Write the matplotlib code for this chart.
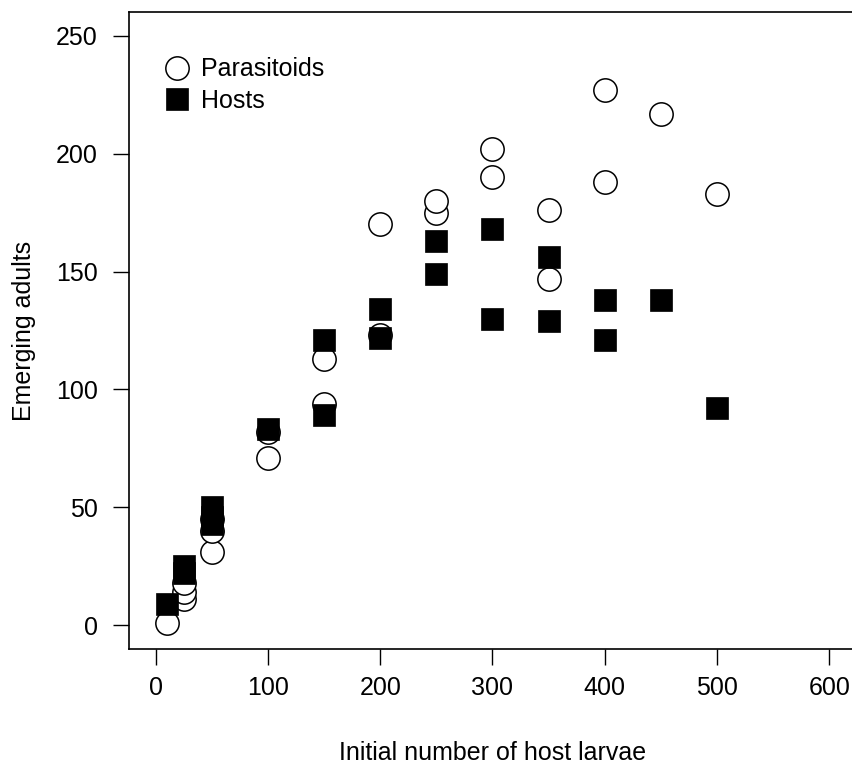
import matplotlib
matplotlib.use("Agg")
import matplotlib.pyplot as plt

plt.rcParams['font.family'] = ['Liberation Sans', 'DejaVu Sans']

# Parasitoids (open circles)
para_x = [10, 25, 25, 25, 50, 50, 50, 100, 100, 150, 150, 200, 200, 250, 250,
          300, 300, 350, 350, 400, 400, 450, 500]
para_y = [1, 11, 14, 18, 31, 40, 45, 71, 82, 94, 113, 123, 170, 175, 180,
          190, 202, 147, 176, 188, 227, 217, 183]

# Hosts (filled squares)
host_x = [10, 25, 25, 50, 50, 50, 100, 150, 150, 200, 200, 250, 250,
          300, 300, 350, 350, 400, 400, 450, 500]
host_y = [9, 22, 25, 43, 46, 50, 83, 89, 121, 122, 134, 149, 163,
          130, 168, 129, 156, 121, 138, 138, 92]

xticks = [0, 100, 200, 300, 400, 500, 600]
yticks = [0, 50, 100, 150, 200, 250]

W, H = 853, 767
fig = plt.figure(figsize=(W / 100, H / 100), dpi=100)
left, right, top, bottom = 128.7, 856.3, 12.3, 648.7
ax = fig.add_axes([left / W, 1 - bottom / H, (right - left) / W, (bottom - top) / H])

ax.plot(para_x, para_y, linestyle='none', marker='o', markersize=16.8,
        markerfacecolor='white', markeredgecolor='black', markeredgewidth=1.1,
        label='Parasitoids', zorder=3)
ax.plot(host_x, host_y, linestyle='none', marker='s', markersize=15.5,
        markerfacecolor='black', markeredgecolor='black', markeredgewidth=0.5,
        label='Hosts', zorder=4)

ax.set_xlim(-24, 624)
ax.set_ylim(-10, 260)
ax.set_xticks(xticks)
ax.set_yticks(yticks)
ax.tick_params(axis='both', direction='out', length=11.3, width=1.0, labelsize=18,
               color='black')
ax.tick_params(axis='x', pad=8)
ax.tick_params(axis='y', pad=11)
for s in ax.spines.values():
    s.set_linewidth(1.2)
    s.set_color('black')

ax.set_xlabel('Initial number of host larvae', fontsize=18, labelpad=30)
ax.set_ylabel('Emerging adults', fontsize=18, labelpad=14)

ax.legend(loc='upper left', bbox_to_anchor=(0.0492, 0.929), frameon=False,
          fontsize=18, borderpad=0, borderaxespad=0, handlelength=1.0,
          handletextpad=0.46, labelspacing=0.3, numpoints=1)

fig.savefig('out.png', dpi=100)
